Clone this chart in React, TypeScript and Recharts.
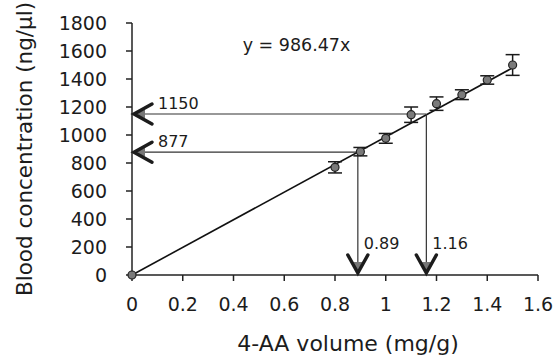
import React from 'react';
import {
  ComposedChart,
  Scatter,
  XAxis,
  YAxis,
  ErrorBar,
  ReferenceLine,
  ReferenceDot,
  Label,
} from 'recharts';

const volumes = [0, 0.8, 0.9, 1.0, 1.1, 1.2, 1.3, 1.4, 1.5];
const concentrations = [0, 769, 881, 976, 1145, 1224, 1288, 1393, 1500];
const errors = [0, 40, 30, 35, 55, 48, 35, 30, 74];

const xTicks = [0, 0.2, 0.4, 0.6, 0.8, 1, 1.2, 1.4, 1.6];
const xTickLabels = ['0', '0.2', '0.4', '0.6', '0.8', '1', '1.2', '1.4', '1.6'];
const yTicks = [0, 200, 400, 600, 800, 1000, 1200, 1400, 1600, 1800];

const slope = 986.47;
const fitStart = 0;
const fitEnd = 1.5;
const equationText = 'y = 986.47x';

const readX = [0.89, 1.16];
const readY = [877, 1150];
const readXLabels = ['0.89', '1.16'];
const readYLabels = ['877', '1150'];

const FONT = '"DejaVu Sans", sans-serif';
const INK = '#1c1c1c';

const data = volumes.map((v, i) => ({ x: v, y: concentrations[i], err: errors[i] }));

function makeArrow(label: string, horizontal: boolean) {
  return (p: any) => {
    const { x1, y1, x2, y2 } = p;
    let tx: number, ty: number;
    let chevron: string, tri: string, lx: number, ly: number;
    if (horizontal) {
      tx = Math.min(x1, x2);
      ty = y1;
      chevron = `${tx + 20},${ty - 10} ${tx + 2},${ty} ${tx + 20},${ty + 10}`;
      tri = `${tx + 3},${ty} ${tx + 13},${ty - 4.5} ${tx + 13},${ty + 4.5}`;
      lx = tx + 26;
      ly = ty - 5;
    } else {
      tx = x1;
      ty = Math.max(y1, y2);
      chevron = `${tx - 10},${ty - 20} ${tx},${ty - 2} ${tx + 10},${ty - 20}`;
      tri = `${tx},${ty - 3} ${tx - 4.5},${ty - 13} ${tx + 4.5},${ty - 13}`;
      lx = tx + 6;
      ly = ty - 26;
    }
    return (
      <g>
        <line x1={x1} y1={y1} x2={x2} y2={y2} stroke="#333" strokeWidth={1.2} />
        <polygon points={tri} fill="#777" />
        <polyline
          points={chevron}
          fill="none"
          stroke={INK}
          strokeWidth={3.5}
          strokeLinecap="round"
          strokeLinejoin="miter"
        />
        <text x={lx} y={ly} fontFamily={FONT} fontSize={16} fill={INK} textAnchor="start">
          {label}
        </text>
      </g>
    );
  };
}

const Marker = (p: any) => (
  <circle cx={p.cx} cy={p.cy} r={4} fill="#7a7a7a" stroke="#222" strokeWidth={1.2} />
);

export default function App() {
  return (
    <div style={{ position: 'absolute', left: 0, top: 0, background: '#fff' }}>
      <ComposedChart
        width={555}
        height={362}
        data={data}
        margin={{ top: 23, right: 17, left: 0, bottom: 0 }}
      >
        <XAxis
          type="number"
          dataKey="x"
          domain={[0, 1.6]}
          ticks={xTicks}
          tickFormatter={(v: number) => xTickLabels[xTicks.indexOf(v)] ?? String(v)}
          height={87}
          tickSize={6}
          tickMargin={17}
          axisLine={{ stroke: '#222', strokeWidth: 1.5 }}
          tickLine={{ stroke: '#222', strokeWidth: 1.5 }}
          tick={{ fill: INK, fontFamily: FONT, fontSize: 19 }}
        >
          <Label
            value="4-AA volume (mg/g)"
            position="insideBottom"
            offset={11}
            dx={13}
            style={{ fontFamily: FONT, fontSize: 22, fill: INK }}
          />
        </XAxis>
        <YAxis
          type="number"
          dataKey="y"
          domain={[0, 1800]}
          ticks={yTicks}
          width={132}
          tickSize={6}
          tickMargin={19}
          axisLine={{ stroke: '#222', strokeWidth: 1.5 }}
          tickLine={{ stroke: '#222', strokeWidth: 1.5 }}
          tick={{ fill: INK, fontFamily: FONT, fontSize: 19 }}
        >
          <Label
            value="Blood concentration (ng/µl)"
            angle={-90}
            position="insideLeft"
            offset={24}
            style={{ fontFamily: FONT, fontSize: 21.5, fill: INK, textAnchor: 'middle' }}
          />
        </YAxis>
        <ReferenceLine
          segment={[
            { x: fitStart, y: slope * fitStart },
            { x: fitEnd, y: slope * fitEnd },
          ]}
          stroke="#111"
          strokeWidth={1.6}
          ifOverflow="visible"
        />
        {readX.map((rx, i) => (
          <ReferenceLine
            key={`h${i}`}
            segment={[
              { x: 0, y: readY[i] },
              { x: rx, y: readY[i] },
            ]}
            ifOverflow="visible"
            shape={makeArrow(readYLabels[i], true)}
          />
        ))}
        {readX.map((rx, i) => (
          <ReferenceLine
            key={`v${i}`}
            segment={[
              { x: rx, y: readY[i] },
              { x: rx, y: 0 },
            ]}
            ifOverflow="visible"
            shape={makeArrow(readXLabels[i], false)}
          />
        ))}
        <ReferenceDot
          x={0.436}
          y={1600}
          r={0}
          ifOverflow="visible"
          shape={(p: any) => (
            <text x={p.cx} y={p.cy} fontFamily={FONT} fontSize={17.5} fill={INK} textAnchor="start">
              {equationText}
            </text>
          )}
        />
        <Scatter dataKey="y" fill="#7a7a7a" shape={Marker} isAnimationActive={false}>
          <ErrorBar dataKey="err" direction="y" width={7} stroke="#1a1a1a" strokeWidth={1.5} />
        </Scatter>
      </ComposedChart>
    </div>
  );
}
